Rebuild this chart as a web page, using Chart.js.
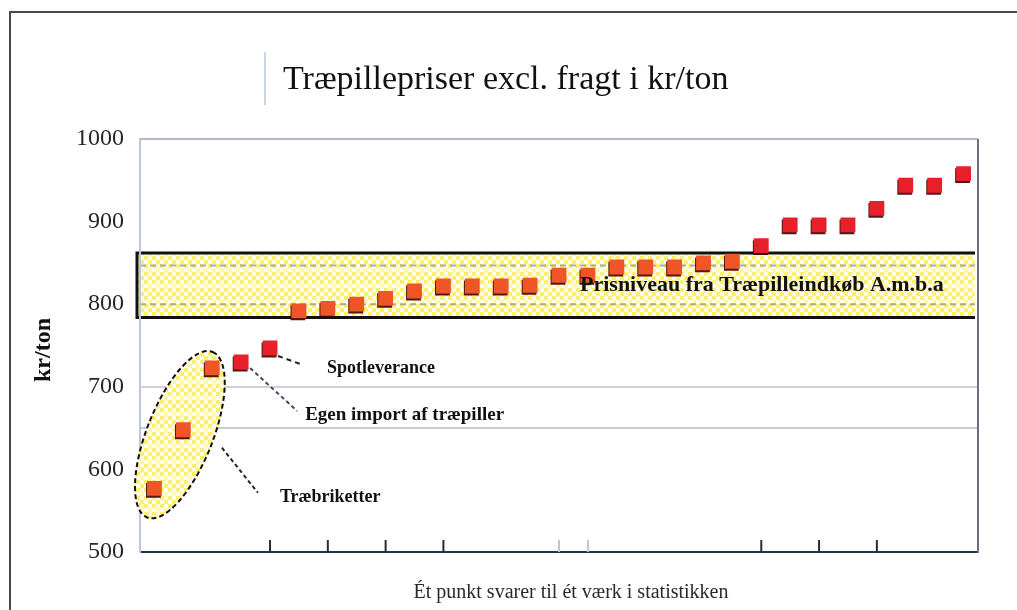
<!DOCTYPE html>
<html>
<head>
<meta charset="utf-8">
<script src="https://cdn.jsdelivr.net/npm/chart.js@4.4.1/dist/chart.umd.min.js"></script>
<style>
  html, body { margin: 0; padding: 0; background: #fff; }
  canvas { display: block; }
</style>
</head>
<body>
<canvas id="priceChart" width="1017" height="610"></canvas>
<script>
const chartTitle = 'Træpillepriser excl. fragt i kr/ton';
const yTitle = 'kr/ton';
const xTitle = 'Ét punkt svarer til ét værk i statistikken';

// one point per plant, sorted by price
const plants = ['1','2','3','4','5','6','7','8','9','10','11','12','13','14','15',
  '16','17','18','19','20','21','22','23','24','25','26','27','28','29'];
const prices = [577, 648, 723, 730, 747, 792, 795, 800, 807, 816, 822, 822, 822, 823, 835,
  835, 845, 845, 845, 850, 852, 871, 896, 896, 896, 916, 944, 944, 958];
const yTicks = [500, 600, 700, 800, 900, 1000];

// price level band from Træpilleindkøb
const bandLow = 784;
const bandHigh = 862;
const bandLabel = 'Prisniveau fra Træpilleindkøb A.m.b.a';
const briquettes = 3; // first points, inside the ellipse
const noteSpot = 'Spotleverance';
const noteImport = 'Egen import af træpiller';
const noteBriq = 'Træbriketter';

const serif = '"Liberation Serif", "Times New Roman", serif';

function txt(ctx, s, x, y, font, color, align, maxW) {
  ctx.save();
  ctx.font = font;
  ctx.fillStyle = color;
  ctx.textAlign = align;
  ctx.textBaseline = 'middle';
  if (maxW) ctx.fillText(s, x, y, maxW); else ctx.fillText(s, x, y);
  ctx.restore();
}

function dashed(ctx, x1, y1, x2, y2, color, w, dash) {
  ctx.save();
  ctx.strokeStyle = color;
  ctx.lineWidth = w;
  ctx.setLineDash(dash);
  ctx.beginPath();
  ctx.moveTo(x1, y1);
  ctx.lineTo(x2, y2);
  ctx.stroke();
  ctx.restore();
}

let yellow = null;
function checker(ctx) {
  if (yellow) return yellow;
  const c = document.createElement('canvas');
  c.width = 16; c.height = 16;
  const g = c.getContext('2d');
  g.fillStyle = '#fffdf0';
  g.fillRect(0, 0, 16, 16);
  g.fillStyle = '#fff06b';
  g.fillRect(0, 0, 4, 4); g.fillRect(8, 0, 4, 4);
  g.fillRect(4, 4, 4, 4); g.fillRect(12, 4, 4, 4);
  g.fillRect(0, 8, 4, 4); g.fillRect(8, 8, 4, 4);
  g.fillStyle = '#fff7b3';
  g.fillRect(4, 12, 4, 4); g.fillRect(12, 12, 4, 4);
  g.fillRect(4, 0, 2, 2); g.fillRect(12, 8, 2, 2);
  yellow = ctx.createPattern(c, 'repeat');
  return yellow;
}

const decor = {
  id: 'decor',
  beforeDraw(chart) {
    const ctx = chart.ctx;
    const a = chart.chartArea;
    const y = chart.scales.y;
    // outer frame
    ctx.save();
    ctx.strokeStyle = '#4a4a4a';
    ctx.lineWidth = 2;
    ctx.beginPath();
    ctx.moveTo(1017, 12); ctx.lineTo(10, 12); ctx.lineTo(10, 610);
    ctx.stroke();
    ctx.restore();
    // title
    dashed(ctx, 265, 52, 265, 105, '#c6d6e6', 2, []);
    ctx.save();
    ctx.font = '34px ' + serif;
    ctx.fillStyle = '#111';
    ctx.textBaseline = 'alphabetic';
    ctx.fillText(chartTitle, 283, 89, 452);
    ctx.restore();
    // price band
    const top = y.getPixelForValue(bandHigh);
    const bot = y.getPixelForValue(bandLow);
    ctx.save();
    ctx.fillStyle = checker(ctx);
    ctx.fillRect(a.left - 3, top, a.right - 3 - (a.left - 3), bot - top);
    ctx.restore();
    dashed(ctx, a.left, y.getPixelForValue(847), a.right - 3, y.getPixelForValue(847), '#a3acb6', 2, [6, 4]);
    dashed(ctx, a.left, y.getPixelForValue(800), a.right - 3, y.getPixelForValue(800), '#b6a878', 2, [6, 4]);
    ctx.save();
    ctx.strokeStyle = '#111';
    ctx.lineWidth = 3;
    ctx.beginPath();
    ctx.moveTo(a.right - 3, top); ctx.lineTo(a.left - 3, top);
    ctx.lineTo(a.left - 3, bot); ctx.lineTo(a.right - 3, bot);
    ctx.stroke();
    ctx.restore();
  },
  beforeDatasetsDraw(chart) {
    const ctx = chart.ctx;
    const x = chart.scales.x;
    const y = chart.scales.y;
    // ellipse round the briquette plants
    const cx = x.getPixelForValue(0.88);
    const cy = y.getPixelForValue(642);
    ctx.save();
    ctx.beginPath();
    ctx.ellipse(cx, cy, 89, 33, -1.194, 0, Math.PI * 2);
    ctx.fillStyle = checker(ctx);
    ctx.fill();
    ctx.strokeStyle = '#111';
    ctx.lineWidth = 2;
    ctx.setLineDash([5, 3]);
    ctx.stroke();
    ctx.restore();
  },
  beforeDatasetDraw(chart) {
    const ctx = chart.ctx;
    ctx.save();
    ctx.shadowColor = 'rgba(60,0,0,0.9)';
    ctx.shadowOffsetX = -1;
    ctx.shadowOffsetY = 2;
    ctx.shadowBlur = 0;
  },
  afterDatasetDraw(chart) {
    chart.ctx.restore();
  },
  afterDatasetsDraw(chart) {
    const ctx = chart.ctx;
    const a = chart.chartArea;
    const x = chart.scales.x;
    const y = chart.scales.y;
    // plot frame top / right
    dashed(ctx, a.left, a.top, a.right, a.top, '#bab2cf', 2, []);
    dashed(ctx, a.right, a.top, a.right, a.bottom + 1, '#6e6c86', 2, []);
    // inner tick marks on the x axis
    [4, 6, 8, 10, 14, 15, 21, 23, 25].forEach(i => {
      const px = x.getPixelForValue(i);
      const c = (i === 14 || i === 15) ? '#b9c6d6' : '#2a2a36';
      dashed(ctx, px, a.bottom, px, a.bottom - 12, c, 2, []);
    });
    // y tick labels and titles
    yTicks.forEach(v => {
      txt(ctx, String(v), 124, y.getPixelForValue(v), '24px ' + serif, '#262626', 'right');
    });
    ctx.save();
    ctx.translate(44, 350);
    ctx.rotate(-Math.PI / 2);
    txt(ctx, yTitle, 0, 0, 'bold 24px ' + serif, '#111', 'center');
    ctx.restore();
    txt(ctx, xTitle, 571, 593, '20px ' + serif, '#2a2a2a', 'center', 353);
    // band label
    txt(ctx, bandLabel, 580, y.getPixelForValue(823), 'bold 22px ' + serif, '#111', 'left', 385);
    // leader lines and notes
    const p4x = x.getPixelForValue(4), p4y = y.getPixelForValue(prices[4]);
    dashed(ctx, p4x + 8, p4y + 8, p4x + 33, p4y + 17, '#222', 2, [5, 4]);
    txt(ctx, noteSpot, p4x + 57, p4y + 20, 'bold 18px ' + serif, '#111', 'left', 113);
    const p3x = x.getPixelForValue(3), p3y = y.getPixelForValue(prices[3]);
    dashed(ctx, p3x + 9, p3y + 6, p3x + 56, p3y + 49, '#444a5a', 2, [4, 3]);
    txt(ctx, noteImport, p3x + 64, p3y + 53, 'bold 19px ' + serif, '#111', 'left', 202);
    const ex = x.getPixelForValue(0.88), ey = y.getPixelForValue(642);
    dashed(ctx, ex + 42, ey + 13, ex + 78, ey + 58, '#222', 2, [4, 3]);
    txt(ctx, noteBriq, ex + 100, ey + 63, 'bold 18px ' + serif, '#111', 'left', 105);
  }
};

const ctx = document.getElementById('priceChart').getContext('2d');

new Chart(ctx, {
  type: 'line',
  data: {
    labels: plants,
    datasets: [{
      label: 'Pris',
      data: prices,
      showLine: false,
      pointStyle: 'rect',
      pointRadius: 10.5,
      pointBorderWidth: 0,
      pointBackgroundColor: c => (c.dataIndex < briquettes || (c.raw >= bandLow && c.raw <= bandHigh)) ? '#ef5527' : '#e8202a'
    }]
  },
  options: {
    responsive: false,
    animation: false,
    layout: {
      padding: { left: 140, right: 39, top: 139, bottom: 58 }
    },
    plugins: {
      legend: { display: false },
      tooltip: { enabled: false },
      title: { display: false }
    },
    scales: {
      x: {
        type: 'category',
        offset: true,
        grid: { display: false, drawTicks: false },
        border: { color: '#1f3945', width: 2 },
        ticks: { display: false }
      },
      y: {
        min: 500,
        max: 1000,
        ticks: { display: false, stepSize: 50 },
        border: { color: '#bcc6de', width: 2 },
        grid: {
          drawTicks: false,
          lineWidth: 2,
          color: c => {
            if (!c.tick) return 'rgba(0,0,0,0)';
            if (c.tick.value === 700) return '#dccbdc';
            if (c.tick.value === 650) return '#c9c9d1';
            return 'rgba(0,0,0,0)';
          }
        }
      }
    }
  },
  plugins: [decor]
});
</script>
</body>
</html>
